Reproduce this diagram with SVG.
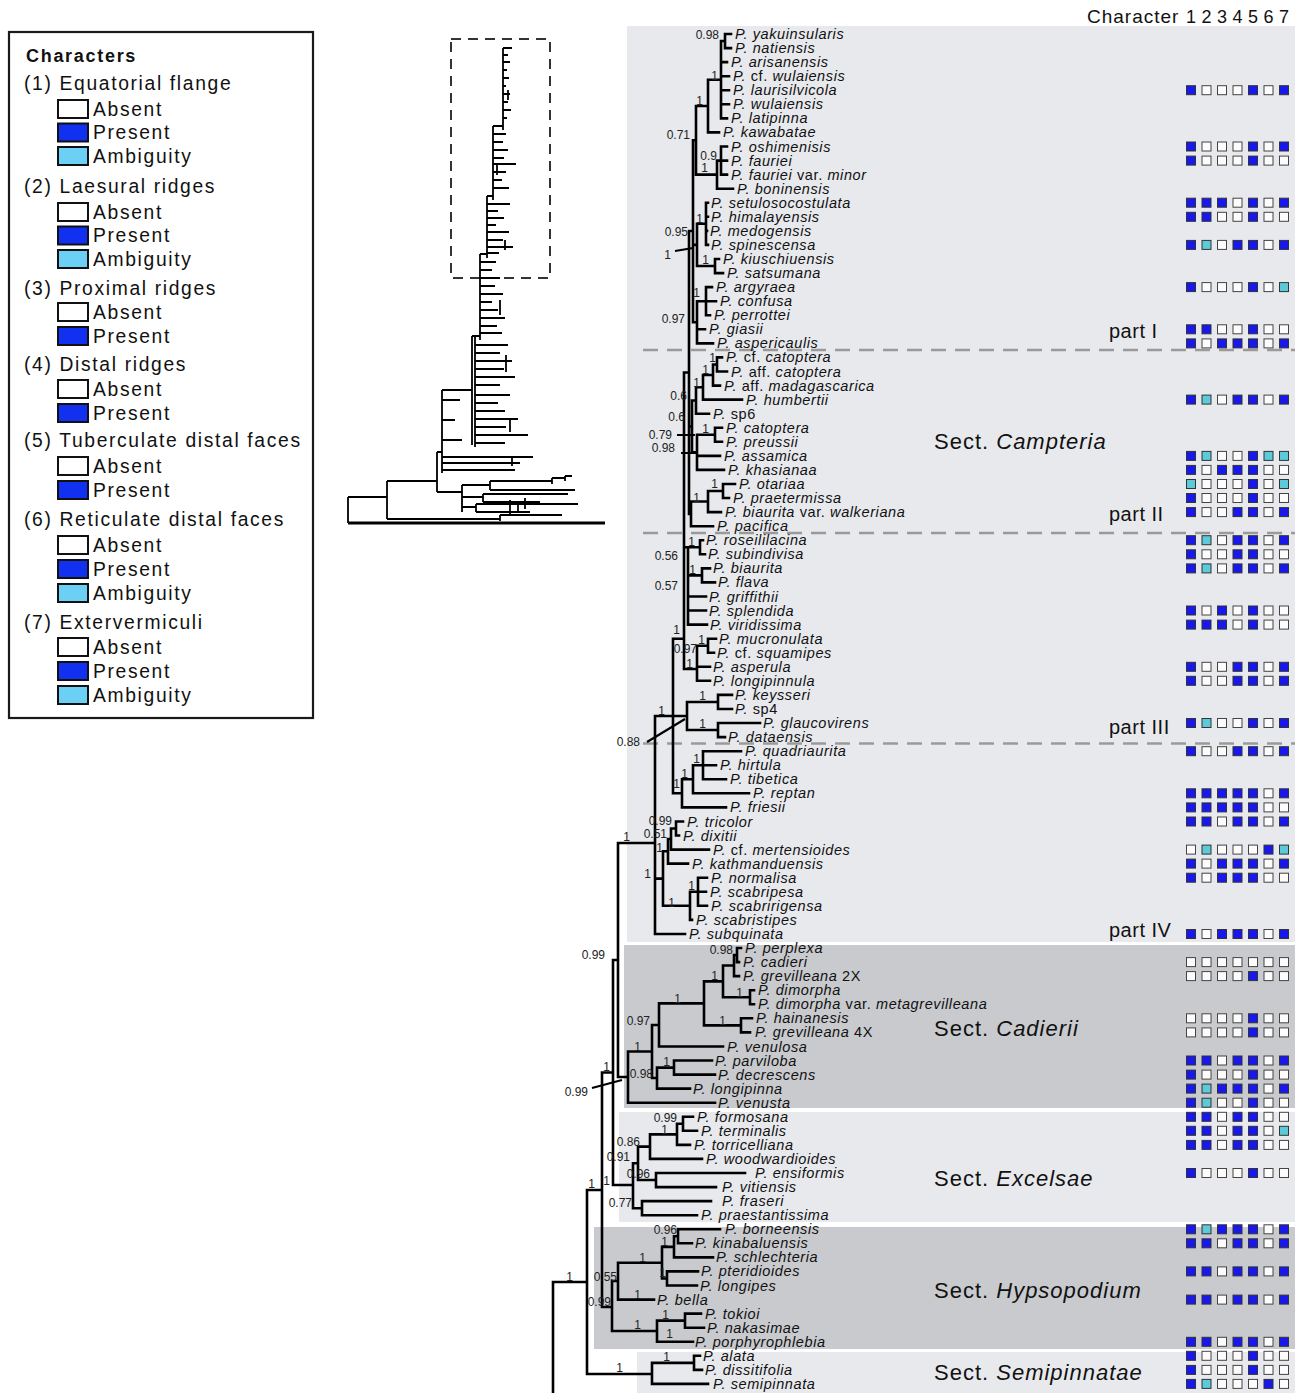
<svg xmlns="http://www.w3.org/2000/svg" xmlns:xlink="http://www.w3.org/1999/xlink" width="1304" height="1393" viewBox="0 0 1304 1393">
<style>
.t{fill:none;stroke:#000;stroke-width:2.6;stroke-linecap:square}
.pt{fill:none;stroke:#000;stroke-width:2.2}
.th{fill:none;stroke:#000;stroke-width:1.8}
.sp{font-family:"Liberation Sans",Arial,sans-serif;font-size:14.5px;font-style:italic;letter-spacing:0.6px;fill:#111}
.n{font-style:normal}
.it{font-style:italic}
.bs{font-family:"Liberation Sans",Arial,sans-serif;font-size:12px;fill:#222;text-anchor:end}
.sec{font-family:"Liberation Sans",Arial,sans-serif;font-size:22px;letter-spacing:1px;fill:#111}
.part{font-family:"Liberation Sans",Arial,sans-serif;font-size:20px;letter-spacing:0.5px;fill:#111}
.lg{font-family:"Liberation Sans",Arial,sans-serif;font-size:19.3px;letter-spacing:1.65px;fill:#111}
.lgh{font-family:"Liberation Sans",Arial,sans-serif;font-size:18px;font-weight:bold;letter-spacing:1.7px;fill:#111}
.dash{stroke:#9a9a9a;stroke-width:2.5;stroke-dasharray:15 9;fill:none}
.lb{stroke:#111;stroke-width:2}
.hd{font-family:"Liberation Sans",Arial,sans-serif;font-size:19px;letter-spacing:1px;fill:#111}
.dg{font-family:"Liberation Sans",Arial,sans-serif;font-size:18px;fill:#111;text-anchor:middle}
</style>
<defs>
<rect id="P" width="9" height="9" fill="#1818ec" stroke="#333" stroke-width="1"/>
<rect id="A" width="9" height="9" fill="#fdfbfb" stroke="#444" stroke-width="1"/>
<rect id="C" width="9" height="9" fill="#5ccad9" stroke="#333" stroke-width="1"/>
</defs>
<rect width="1304" height="1393" fill="#fff"/>
<g id="panels">
<rect x="627" y="26" width="668" height="916" fill="#e8e9ed"/>
<rect x="624" y="945" width="671" height="163" fill="#c8cace"/>
<rect x="619" y="1112" width="676" height="110" fill="#e8e9ed"/>
<rect x="594" y="1227" width="701" height="122" fill="#c8cace"/>
<rect x="637" y="1352" width="658" height="41" fill="#e8e9ed"/>
<path class="dash" d="M643 350H1295M643 533H1295M643 743.5H1295"/>
</g>
<g id="overview">
<rect x="451" y="39" width="99" height="239" fill="none" stroke="#333" stroke-width="2" stroke-dasharray="10 7"/>
<path class="th" d="M503 48V130M493 126V200M493 126H503M487 196V258M487 196H493M480 254V340M480 254H487M475 336V447M472 336V445M472 336H480M442 390V473M442 390H472M437 452V492M437 452H442M387 481V519M387 481H437M348 497V523M348 497H387
M503 48H512M503 55H508M503 62H510M503 70H507M503 78H509M503 86H506M503 94H510M503 102H508M503 110H511M503 118H507
M493 134H506M493 142H503M493 150H508M493 158H504M493 164H516M493 172H506M493 180H502M493 188H509
M487 204H510M487 211H498M487 218H504M487 225H496M487 232H509M487 240H503M487 247H513M487 253H499
M480 262H496M480 270H492M480 278H500M480 286H495M480 294H503M480 302H492M480 310H498M480 318H505M480 326H497M480 333H502
M475 345H508M475 353H500M475 361H512M475 369H504M475 377H515M475 385H500M475 395H510M475 403H498M475 411H505M475 419H518M475 427H506M475 435H528M475 443H505
M442 400H460M442 420H455M442 440H462M442 457H533M442 463H520M442 470H515
M506 355V372M510 420V432M500 300V315M497 165V175M505 240V250M508 90V100M512 457V466
M437 492H462M462 485V512M462 485H490M490 481V490M490 481H552M490 490H575M462 497H483M483 494V502M483 494H568M483 502H540M462 507H476M476 504V512M476 504H578M476 512H530M387 519H500M500 515V521M500 515H562
M510 500V516M518 503V513M525 498V509M552 478V484M552 478H565M565 476V481M565 476H572"/>
<path d="M348 523H605" fill="none" stroke="#000" stroke-width="3"/>
</g>
<g id="legend">
<rect x="9" y="32" width="304" height="686" fill="#fff" stroke="#1a1a1a" stroke-width="2.2"/>
<text class="lgh" x="26" y="62">Characters</text>
<text class="lg" x="24" y="89.5">(1) Equatorial flange</text>
<rect class="lb" x="58" y="100" width="30" height="18" fill="#fff"/><text class="lg" x="93" y="115.5">Absent</text>
<rect class="lb" x="58" y="123.5" width="30" height="18" fill="#1230f0"/><text class="lg" x="93" y="139">Present</text>
<rect class="lb" x="58" y="147" width="30" height="18" fill="#6ccff4"/><text class="lg" x="93" y="162.5">Ambiguity</text>
<text class="lg" x="24" y="192.5">(2) Laesural ridges</text>
<rect class="lb" x="58" y="203" width="30" height="18" fill="#fff"/><text class="lg" x="93" y="218.5">Absent</text>
<rect class="lb" x="58" y="226.5" width="30" height="18" fill="#1230f0"/><text class="lg" x="93" y="242">Present</text>
<rect class="lb" x="58" y="250" width="30" height="18" fill="#6ccff4"/><text class="lg" x="93" y="265.5">Ambiguity</text>
<text class="lg" x="24" y="294.5">(3) Proximal ridges</text>
<rect class="lb" x="58" y="303" width="30" height="18" fill="#fff"/><text class="lg" x="93" y="318.5">Absent</text>
<rect class="lb" x="58" y="327" width="30" height="18" fill="#1230f0"/><text class="lg" x="93" y="342.5">Present</text>
<text class="lg" x="24" y="370.5">(4) Distal ridges</text>
<rect class="lb" x="58" y="380" width="30" height="18" fill="#fff"/><text class="lg" x="93" y="395.5">Absent</text>
<rect class="lb" x="58" y="404" width="30" height="18" fill="#1230f0"/><text class="lg" x="93" y="419.5">Present</text>
<text class="lg" x="24" y="446.5">(5) Tuberculate distal faces</text>
<rect class="lb" x="58" y="457" width="30" height="18" fill="#fff"/><text class="lg" x="93" y="472.5">Absent</text>
<rect class="lb" x="58" y="481" width="30" height="18" fill="#1230f0"/><text class="lg" x="93" y="496.5">Present</text>
<text class="lg" x="24" y="525.5">(6) Reticulate distal faces</text>
<rect class="lb" x="58" y="536" width="30" height="18" fill="#fff"/><text class="lg" x="93" y="551.5">Absent</text>
<rect class="lb" x="58" y="560" width="30" height="18" fill="#1230f0"/><text class="lg" x="93" y="575.5">Present</text>
<rect class="lb" x="58" y="584" width="30" height="18" fill="#6ccff4"/><text class="lg" x="93" y="599.5">Ambiguity</text>
<text class="lg" x="24" y="628.5">(7) Extervermiculi</text>
<rect class="lb" x="58" y="638" width="30" height="18" fill="#fff"/><text class="lg" x="93" y="653.5">Absent</text>
<rect class="lb" x="58" y="662" width="30" height="18" fill="#1230f0"/><text class="lg" x="93" y="677.5">Present</text>
<rect class="lb" x="58" y="686" width="30" height="18" fill="#6ccff4"/><text class="lg" x="93" y="701.5">Ambiguity</text>
</g>
<g id="connectors">
<path class="t" d="M725 34V48.1M725 34H731M725 48.1H731
M721 41V118.4M721 41H725M721 62.1H727M721 76.2H729M721 90.2H729M721 104.3H729M721 118.4H727
M708 79.7V132.4M708 79.7H721M708 132.4H719
M721 146.5V174.6M721 146.5H727M721 160.6H727M721 174.6H727
M717 160.6V188.7M717 160.6H721M717 188.7H733
M696 106V174.6M696 106H708M696 174.6H717
M706 202.7V244.9M706 202.7H708M706 216.8H708M706 230.9H707M706 244.9H708
M715 259V273.1M715 259H719M715 273.1H723
M697 223.8V266M697 223.8H706M697 266H715
M706 287.1V315.2M706 287.1H712M706 301.2H716M706 315.2H710
M697 301.2V343.4M697 301.2H706M697 329.3H705M697 343.4H713
M693 140.3V322.3M693 140.3H696M693 244.9H697M693 322.3H697
M689 231V514M689 231H693M689 426.4H692M689 514H691
M717 357.4V371.5M717 357.4H722M717 371.5H727
M713 364.5V385.6M713 364.5H717M713 385.6H720
M703 375V399.6M703 375H713M703 399.6H742
M696 387.3V413.7M696 387.3H703M696 413.7H709
M715 427.7V441.8M715 427.7H722M715 441.8H722
M697 434.8V469.9M697 434.8H715M697 455.9H720M697 469.9H724
M692 400.5V452.4M692 400.5H696M692 452.4H697
M723 484V498M723 484H735M723 498H729
M708 491V512.1M708 491H723M708 512.1H721
M691 501.5V526.2M691 501.5H708M691 526.2H713
M684 372.5V669M684 372.5H689M684 547.3H688M684 669H697
M700 540.2V554.3M700 540.2H703M700 554.3H705
M702 568.4V582.4M702 568.4H710M702 582.4H715
M688 547.3V624.6M688 547.3H700M688 575.4H702M688 596.5H706M688 610.5H706M688 624.6H707
M708 638.7V652.7M708 638.7H716M708 652.7H714
M697 645.7V680.8M697 645.7H708M697 666.8H710M697 680.8H710
M718 694.9V709M718 694.9H732M718 709H732
M718 723V737.1M718 723H760M718 737.1H725
M687 702V730M687 702H718M687 730H718
M673 638.7V793.3M673 638.7H684M673 716H687M673 793.3H682
M655 716V934M655 716H673M655 878.6H663M655 934H685
M703 751.2V779.3M703 751.2H741M703 765.2H716M703 779.3H726
M693 765.2V793.3M693 765.2H703M693 793.3H749
M682 779.3V807.4M682 779.3H693M682 807.4H726
M676 821.5V835.5M676 821.5H683M676 835.5H679
M671 828.5V849.6M671 828.5H676M671 849.6H709
M668 839V863.6M668 839H671M668 863.6H688
M698 877.7V905.8M698 877.7H707M698 891.8H706M698 905.8H707
M690 891.8V919.9M690 891.8H698M690 919.9H692
M663 851.3V905.8M663 851.3H668M663 905.8H690
M618 843V1077M618 843H655M618 1077H628
M613 960V1185M613 960H618M613 1185H633
M602 1072.5V1307M602 1072.5H613M602 1307H612
M587 1190V1374M587 1190H602M587 1374H652
M553 1282V1396M553 1282H587
M737 948V962.1M737 948H741M737 962.1H739
M734 955V976.1M734 955H737M734 976.1H739
M750 990.2V1004.3M750 990.2H754M750 1004.3H754
M723 965.5V997.3M723 965.5H734M723 997.3H750
M741 1018.3V1032.4M741 1018.3H752M741 1032.4H750
M704 981.4V1025.4M704 981.4H723M704 1025.4H741
M659 1003.4V1046.5M659 1003.4H704M659 1046.5H723
M674 1060.5V1074.6M674 1060.5H712M674 1074.6H715
M657 1067.6V1088.6M657 1067.6H674M657 1088.6H690
M652 1025V1078M652 1025H659M652 1078H657
M628 1051.5V1102.7M628 1051.5H652M628 1102.7H715
M683 1116.8V1130.8M683 1116.8H693M683 1130.8H697
M677 1123.8V1144.9M677 1123.8H683M677 1144.9H690
M650 1134.4V1158.9M650 1134.4H677M650 1158.9H702
M656 1173V1187.1M656 1173H745M656 1187.1H716
M638 1146.6V1180M638 1146.6H650M638 1180H656
M642 1201.1V1215.2M642 1201.1H711M642 1215.2H697
M633 1163.3V1208.2M633 1163.3H638M633 1208.2H642
M678 1229.3V1243.3M678 1229.3H720M678 1243.3H692
M674 1236.3V1257.4M674 1236.3H678M674 1257.4H713
M667 1271.4V1285.5M667 1271.4H698M667 1285.5H697
M662 1246.9V1278.5M662 1246.9H674M662 1278.5H667
M618 1262.7V1299.6M618 1262.7H662M618 1299.6H654
M685 1313.6V1327.7M685 1313.6H701M685 1327.7H704
M657 1320.6V1341.8M657 1320.6H685M657 1341.8H693
M612 1281V1331M612 1281H618M612 1331H657
M694 1355.8V1369.9M694 1355.8H700M694 1369.9H702
M652 1362.9V1383.9M652 1362.9H694M652 1383.9H708"/>
<path class="pt" d="M675 251L693 248M677 435H695M681 453H697M647 742L685 719M592 1088L622 1080"/>
</g>
<g id="support" class="bs">
<text x="719" y="39">0.98</text><text x="718" y="80">1</text><text x="703" y="105">1</text><text x="690" y="139">0.71</text><text x="717" y="160">0.9</text><text x="708" y="172">1</text><text x="703" y="223">1</text><text x="688" y="236">0.95</text><text x="671" y="259">1</text><text x="709" y="264">1</text><text x="700" y="297">1</text><text x="685" y="323">0.97</text>
<text x="716" y="362">1</text><text x="709" y="374">1</text><text x="700" y="387">1</text><text x="687" y="400">0.6</text><text x="685" y="421">0.6</text><text x="709" y="433">1</text><text x="672" y="439">0.79</text><text x="675" y="452">0.98</text><text x="718" y="488">1</text><text x="700" y="502">1</text>
<text x="695" y="546">1</text><text x="678" y="560">0.56</text><text x="696" y="574">1</text><text x="678" y="590">0.57</text><text x="680" y="634">1</text><text x="705" y="644">1</text><text x="697" y="653">0.97</text><text x="693" y="668">1</text><text x="706" y="700">1</text><text x="665" y="715">1</text><text x="706" y="728">1</text><text x="640" y="746">0.88</text>
<text x="700" y="763">1</text><text x="688" y="778">1</text><text x="680" y="788">1</text><text x="672" y="825">0.99</text><text x="667" y="838">0.51</text><text x="663" y="852">1</text><text x="651" y="878">1</text><text x="695" y="890">1</text><text x="675" y="907">1</text><text x="630" y="841">1</text>
<text x="605" y="959">0.99</text><text x="733" y="954">0.98</text><text x="718" y="980">1</text><text x="743" y="997">1</text><text x="681" y="1003">1</text><text x="650" y="1025">0.97</text><text x="726" y="1025">1</text><text x="641" y="1051">1</text><text x="670" y="1066">1</text><text x="610" y="1071">1</text><text x="653" y="1078">0.98</text><text x="588" y="1096">0.99</text>
<text x="677" y="1122">0.99</text><text x="668" y="1134">1</text><text x="640" y="1146">0.86</text><text x="630" y="1161">0.91</text><text x="650" y="1178">0.96</text><text x="595" y="1188">1</text><text x="610" y="1185">1</text><text x="632" y="1207">0.77</text>
<text x="677" y="1234">0.96</text><text x="668" y="1246">1</text><text x="646" y="1262">1</text><text x="666" y="1277">1</text><text x="573" y="1281">1</text><text x="617" y="1281">0.55</text><text x="641" y="1299">1</text><text x="611" y="1306">0.99</text><text x="669" y="1319">1</text><text x="641" y="1329">1</text><text x="673" y="1338">1</text>
<text x="670" y="1361">1</text><text x="623" y="1372">1</text>
</g>
<g id="taxa" class="sp">
<g id="t01"><text x="735" y="39">P. yakuinsularis</text></g>
<g id="t02"><text x="735" y="53.1">P. natiensis</text></g>
<g id="t03"><text x="731" y="67.1">P. arisanensis</text></g>
<g id="t04"><text x="733" y="81.2">P. <tspan class="n">cf.</tspan> wulaiensis</text></g>
<g id="t05"><text x="733" y="95.2">P. laurisilvicola</text></g>
<g id="t06"><text x="733" y="109.3">P. wulaiensis</text></g>
<g id="t07"><text x="731" y="123.4">P. latipinna</text></g>
<g id="t08"><text x="723" y="137.4">P. kawabatae</text></g>
<g id="t09"><text x="731" y="151.5">P. oshimenisis</text></g>
<g id="t10"><text x="731" y="165.6">P. fauriei</text></g>
<g id="t11"><text x="731" y="179.6">P. fauriei <tspan class="n">var.</tspan> minor</text></g>
<g id="t12"><text x="737" y="193.7">P. boninensis</text></g>
<g id="t13"><text x="711" y="207.7">P. setulosocostulata</text></g>
<g id="t14"><text x="711" y="221.8">P. himalayensis</text></g>
<g id="t15"><text x="710" y="235.9">P. medogensis</text></g>
<g id="t16"><text x="711" y="249.9">P. spinescensa</text></g>
<g id="t17"><text x="723" y="264">P. kiuschiuensis</text></g>
<g id="t18"><text x="727" y="278.1">P. satsumana</text></g>
<g id="t19"><text x="716" y="292.1">P. argyraea</text></g>
<g id="t20"><text x="720" y="306.2">P. confusa</text></g>
<g id="t21"><text x="714" y="320.2">P. perrottei</text></g>
<g id="t22"><text x="709" y="334.3">P. giasii</text></g>
<g id="t23"><text x="717" y="348.4">P. aspericaulis</text></g>
<g id="t24"><text x="726" y="362.4">P. <tspan class="n">cf.</tspan> catoptera</text></g>
<g id="t25"><text x="731" y="376.5">P. <tspan class="n">aff.</tspan> catoptera</text></g>
<g id="t26"><text x="724" y="390.6">P. <tspan class="n">aff.</tspan> madagascarica</text></g>
<g id="t27"><text x="746" y="404.6">P. humbertii</text></g>
<g id="t28"><text x="713" y="418.7">P. <tspan class="n">sp6</tspan></text></g>
<g id="t29"><text x="726" y="432.7">P. catoptera</text></g>
<g id="t30"><text x="726" y="446.8">P. preussii</text></g>
<g id="t31"><text x="724" y="460.9">P. assamica</text></g>
<g id="t32"><text x="728" y="474.9">P. khasianaa</text></g>
<g id="t33"><text x="739" y="489">P. otariaa</text></g>
<g id="t34"><text x="733" y="503">P. praetermissa</text></g>
<g id="t35"><text x="725" y="517.1">P. biaurita <tspan class="n">var.</tspan> walkeriana</text></g>
<g id="t36"><text x="717" y="531.2">P. pacifica</text></g>
<g id="t37"><text x="706" y="545.2">P. roseililacina</text></g>
<g id="t38"><text x="708" y="559.3">P. subindivisa</text></g>
<g id="t39"><text x="713" y="573.4">P. biaurita</text></g>
<g id="t40"><text x="718" y="587.4">P. flava</text></g>
<g id="t41"><text x="709" y="601.5">P. griffithii</text></g>
<g id="t42"><text x="709" y="615.5">P. splendida</text></g>
<g id="t43"><text x="710" y="629.6">P. viridissima</text></g>
<g id="t44"><text x="719" y="643.7">P. mucronulata</text></g>
<g id="t45"><text x="717" y="657.7">P. <tspan class="n">cf.</tspan> squamipes</text></g>
<g id="t46"><text x="713" y="671.8">P. asperula</text></g>
<g id="t47"><text x="713" y="685.8">P. longipinnula</text></g>
<g id="t48"><text x="735" y="699.9">P. keysseri</text></g>
<g id="t49"><text x="735" y="714">P. <tspan class="n">sp4</tspan></text></g>
<g id="t50"><text x="763" y="728">P. glaucovirens</text></g>
<g id="t51"><text x="728" y="742.1">P. dataensis</text></g>
<g id="t52"><text x="745" y="756.2">P. quadriaurita</text></g>
<g id="t53"><text x="720" y="770.2">P. hirtula</text></g>
<g id="t54"><text x="730" y="784.3">P. tibetica</text></g>
<g id="t55"><text x="753" y="798.3">P. reptan</text></g>
<g id="t56"><text x="730" y="812.4">P. friesii</text></g>
<g id="t57"><text x="687" y="826.5">P. tricolor</text></g>
<g id="t58"><text x="683" y="840.5">P. dixitii</text></g>
<g id="t59"><text x="713" y="854.6">P. <tspan class="n">cf.</tspan> mertensioides</text></g>
<g id="t60"><text x="692" y="868.6">P. kathmanduensis</text></g>
<g id="t61"><text x="711" y="882.7">P. normalisa</text></g>
<g id="t62"><text x="710" y="896.8">P. scabripesa</text></g>
<g id="t63"><text x="711" y="910.8">P. scabririgensa</text></g>
<g id="t64"><text x="696" y="924.9">P. scabristipes</text></g>
<g id="t65"><text x="689" y="939">P. subquinata</text></g>
<g id="t66"><text x="745" y="953">P. perplexa</text></g>
<g id="t67"><text x="743" y="967.1">P. cadieri</text></g>
<g id="t68"><text x="743" y="981.1">P. grevilleana <tspan class="n">2X</tspan></text></g>
<g id="t69"><text x="758" y="995.2">P. dimorpha</text></g>
<g id="t70"><text x="758" y="1009.3">P. dimorpha <tspan class="n">var.</tspan> metagrevilleana</text></g>
<g id="t71"><text x="756" y="1023.3">P. hainanesis</text></g>
<g id="t72"><text x="755" y="1037.4">P. grevilleana <tspan class="n">4X</tspan></text></g>
<g id="t73"><text x="727" y="1051.5">P. venulosa</text></g>
<g id="t74"><text x="715" y="1065.5">P. parviloba</text></g>
<g id="t75"><text x="718" y="1079.6">P. decrescens</text></g>
<g id="t76"><text x="693" y="1093.6">P. longipinna</text></g>
<g id="t77"><text x="718" y="1107.7">P. venusta</text></g>
<g id="t78"><text x="697" y="1121.8">P. formosana</text></g>
<g id="t79"><text x="701" y="1135.8">P. terminalis</text></g>
<g id="t80"><text x="694" y="1149.9">P. torricelliana</text></g>
<g id="t81"><text x="706" y="1163.9">P. woodwardioides</text></g>
<g id="t82"><text x="755" y="1178">P. ensiformis</text></g>
<g id="t83"><text x="722" y="1192.1">P. vitiensis</text></g>
<g id="t84"><text x="722" y="1206.1">P. fraseri</text></g>
<g id="t85"><text x="701" y="1220.2">P. praestantissima</text></g>
<g id="t86"><text x="725" y="1234.3">P. borneensis</text></g>
<g id="t87"><text x="695" y="1248.3">P. kinabaluensis</text></g>
<g id="t88"><text x="716" y="1262.4">P. schlechteria</text></g>
<g id="t89"><text x="701" y="1276.4">P. pteridioides</text></g>
<g id="t90"><text x="700" y="1290.5">P. longipes</text></g>
<g id="t91"><text x="657" y="1304.6">P. bella</text></g>
<g id="t92"><text x="705" y="1318.6">P. tokioi</text></g>
<g id="t93"><text x="707" y="1332.7">P. nakasimae</text></g>
<g id="t94"><text x="695" y="1346.8">P. porphyrophlebia</text></g>
<g id="t95"><text x="703" y="1360.8">P. alata</text></g>
<g id="t96"><text x="705" y="1374.9">P. dissitifolia</text></g>
<g id="t97"><text x="713" y="1388.9">P. semipinnata</text></g>
</g>
<g id="sections">
<text class="sec" x="934" y="449">Sect. <tspan class="it">Campteria</tspan></text>
<text class="sec" x="934" y="1036">Sect. <tspan class="it">Cadierii</tspan></text>
<text class="sec" x="934" y="1186">Sect. <tspan class="it">Excelsae</tspan></text>
<text class="sec" x="934" y="1298">Sect. <tspan class="it">Hypsopodium</tspan></text>
<text class="sec" x="934" y="1380">Sect. <tspan class="it">Semipinnatae</tspan></text>
<text class="part" x="1109" y="338">part I</text>
<text class="part" x="1109" y="521">part II</text>
<text class="part" x="1109" y="734">part III</text>
<text class="part" x="1109" y="937">part IV</text>
</g>
<g id="header">
<text class="hd" x="1087" y="23">Character</text>
<text class="dg" x="1191" y="23">1</text><text class="dg" x="1206.5" y="23">2</text><text class="dg" x="1222" y="23">3</text><text class="dg" x="1237.5" y="23">4</text><text class="dg" x="1253" y="23">5</text><text class="dg" x="1268.5" y="23">6</text><text class="dg" x="1284" y="23">7</text>
</g>
<g id="matrix">
<g transform="translate(0,85.7)"><use href="#P" x="1186.5"/><use href="#A" x="1202"/><use href="#A" x="1217.5"/><use href="#A" x="1233"/><use href="#P" x="1248.5"/><use href="#A" x="1264"/><use href="#P" x="1279.5"/></g>
<g transform="translate(0,142)"><use href="#P" x="1186.5"/><use href="#A" x="1202"/><use href="#A" x="1217.5"/><use href="#A" x="1233"/><use href="#P" x="1248.5"/><use href="#A" x="1264"/><use href="#P" x="1279.5"/></g>
<g transform="translate(0,156.1)"><use href="#P" x="1186.5"/><use href="#A" x="1202"/><use href="#A" x="1217.5"/><use href="#A" x="1233"/><use href="#P" x="1248.5"/><use href="#A" x="1264"/><use href="#A" x="1279.5"/></g>
<g transform="translate(0,198.2)"><use href="#P" x="1186.5"/><use href="#P" x="1202"/><use href="#P" x="1217.5"/><use href="#A" x="1233"/><use href="#P" x="1248.5"/><use href="#A" x="1264"/><use href="#P" x="1279.5"/></g>
<g transform="translate(0,212.3)"><use href="#P" x="1186.5"/><use href="#P" x="1202"/><use href="#A" x="1217.5"/><use href="#A" x="1233"/><use href="#P" x="1248.5"/><use href="#A" x="1264"/><use href="#A" x="1279.5"/></g>
<g transform="translate(0,240.4)"><use href="#P" x="1186.5"/><use href="#C" x="1202"/><use href="#A" x="1217.5"/><use href="#P" x="1233"/><use href="#P" x="1248.5"/><use href="#A" x="1264"/><use href="#P" x="1279.5"/></g>
<g transform="translate(0,282.6)"><use href="#P" x="1186.5"/><use href="#A" x="1202"/><use href="#A" x="1217.5"/><use href="#A" x="1233"/><use href="#P" x="1248.5"/><use href="#A" x="1264"/><use href="#C" x="1279.5"/></g>
<g transform="translate(0,324.8)"><use href="#P" x="1186.5"/><use href="#P" x="1202"/><use href="#A" x="1217.5"/><use href="#A" x="1233"/><use href="#P" x="1248.5"/><use href="#A" x="1264"/><use href="#A" x="1279.5"/></g>
<g transform="translate(0,338.9)"><use href="#P" x="1186.5"/><use href="#A" x="1202"/><use href="#P" x="1217.5"/><use href="#P" x="1233"/><use href="#P" x="1248.5"/><use href="#A" x="1264"/><use href="#P" x="1279.5"/></g>
<g transform="translate(0,395.1)"><use href="#P" x="1186.5"/><use href="#C" x="1202"/><use href="#A" x="1217.5"/><use href="#P" x="1233"/><use href="#P" x="1248.5"/><use href="#A" x="1264"/><use href="#P" x="1279.5"/></g>
<g transform="translate(0,451.4)"><use href="#P" x="1186.5"/><use href="#C" x="1202"/><use href="#A" x="1217.5"/><use href="#A" x="1233"/><use href="#P" x="1248.5"/><use href="#C" x="1264"/><use href="#C" x="1279.5"/></g>
<g transform="translate(0,465.4)"><use href="#P" x="1186.5"/><use href="#A" x="1202"/><use href="#P" x="1217.5"/><use href="#P" x="1233"/><use href="#P" x="1248.5"/><use href="#A" x="1264"/><use href="#A" x="1279.5"/></g>
<g transform="translate(0,479.5)"><use href="#C" x="1186.5"/><use href="#A" x="1202"/><use href="#A" x="1217.5"/><use href="#A" x="1233"/><use href="#P" x="1248.5"/><use href="#A" x="1264"/><use href="#C" x="1279.5"/></g>
<g transform="translate(0,493.5)"><use href="#P" x="1186.5"/><use href="#A" x="1202"/><use href="#A" x="1217.5"/><use href="#A" x="1233"/><use href="#P" x="1248.5"/><use href="#A" x="1264"/><use href="#A" x="1279.5"/></g>
<g transform="translate(0,507.6)"><use href="#P" x="1186.5"/><use href="#A" x="1202"/><use href="#A" x="1217.5"/><use href="#P" x="1233"/><use href="#P" x="1248.5"/><use href="#A" x="1264"/><use href="#P" x="1279.5"/></g>
<g transform="translate(0,535.7)"><use href="#P" x="1186.5"/><use href="#C" x="1202"/><use href="#A" x="1217.5"/><use href="#P" x="1233"/><use href="#P" x="1248.5"/><use href="#A" x="1264"/><use href="#P" x="1279.5"/></g>
<g transform="translate(0,549.8)"><use href="#P" x="1186.5"/><use href="#A" x="1202"/><use href="#A" x="1217.5"/><use href="#P" x="1233"/><use href="#P" x="1248.5"/><use href="#A" x="1264"/><use href="#A" x="1279.5"/></g>
<g transform="translate(0,563.9)"><use href="#P" x="1186.5"/><use href="#C" x="1202"/><use href="#A" x="1217.5"/><use href="#P" x="1233"/><use href="#P" x="1248.5"/><use href="#A" x="1264"/><use href="#P" x="1279.5"/></g>
<g transform="translate(0,606)"><use href="#P" x="1186.5"/><use href="#A" x="1202"/><use href="#P" x="1217.5"/><use href="#A" x="1233"/><use href="#P" x="1248.5"/><use href="#A" x="1264"/><use href="#A" x="1279.5"/></g>
<g transform="translate(0,620.1)"><use href="#P" x="1186.5"/><use href="#P" x="1202"/><use href="#P" x="1217.5"/><use href="#A" x="1233"/><use href="#P" x="1248.5"/><use href="#A" x="1264"/><use href="#A" x="1279.5"/></g>
<g transform="translate(0,662.3)"><use href="#P" x="1186.5"/><use href="#A" x="1202"/><use href="#A" x="1217.5"/><use href="#P" x="1233"/><use href="#P" x="1248.5"/><use href="#A" x="1264"/><use href="#P" x="1279.5"/></g>
<g transform="translate(0,676.3)"><use href="#P" x="1186.5"/><use href="#A" x="1202"/><use href="#A" x="1217.5"/><use href="#P" x="1233"/><use href="#P" x="1248.5"/><use href="#A" x="1264"/><use href="#P" x="1279.5"/></g>
<g transform="translate(0,718.5)"><use href="#P" x="1186.5"/><use href="#C" x="1202"/><use href="#A" x="1217.5"/><use href="#A" x="1233"/><use href="#P" x="1248.5"/><use href="#A" x="1264"/><use href="#P" x="1279.5"/></g>
<g transform="translate(0,746.7)"><use href="#P" x="1186.5"/><use href="#A" x="1202"/><use href="#A" x="1217.5"/><use href="#P" x="1233"/><use href="#P" x="1248.5"/><use href="#A" x="1264"/><use href="#P" x="1279.5"/></g>
<g transform="translate(0,788.8)"><use href="#P" x="1186.5"/><use href="#P" x="1202"/><use href="#P" x="1217.5"/><use href="#P" x="1233"/><use href="#P" x="1248.5"/><use href="#A" x="1264"/><use href="#P" x="1279.5"/></g>
<g transform="translate(0,802.9)"><use href="#P" x="1186.5"/><use href="#P" x="1202"/><use href="#P" x="1217.5"/><use href="#P" x="1233"/><use href="#P" x="1248.5"/><use href="#A" x="1264"/><use href="#A" x="1279.5"/></g>
<g transform="translate(0,817)"><use href="#P" x="1186.5"/><use href="#P" x="1202"/><use href="#A" x="1217.5"/><use href="#P" x="1233"/><use href="#P" x="1248.5"/><use href="#A" x="1264"/><use href="#P" x="1279.5"/></g>
<g transform="translate(0,845.1)"><use href="#A" x="1186.5"/><use href="#C" x="1202"/><use href="#A" x="1217.5"/><use href="#A" x="1233"/><use href="#A" x="1248.5"/><use href="#P" x="1264"/><use href="#C" x="1279.5"/></g>
<g transform="translate(0,859.1)"><use href="#P" x="1186.5"/><use href="#A" x="1202"/><use href="#P" x="1217.5"/><use href="#P" x="1233"/><use href="#P" x="1248.5"/><use href="#A" x="1264"/><use href="#P" x="1279.5"/></g>
<g transform="translate(0,873.2)"><use href="#P" x="1186.5"/><use href="#A" x="1202"/><use href="#P" x="1217.5"/><use href="#P" x="1233"/><use href="#P" x="1248.5"/><use href="#A" x="1264"/><use href="#A" x="1279.5"/></g>
<g transform="translate(0,929.5)"><use href="#P" x="1186.5"/><use href="#A" x="1202"/><use href="#P" x="1217.5"/><use href="#P" x="1233"/><use href="#P" x="1248.5"/><use href="#A" x="1264"/><use href="#P" x="1279.5"/></g>
<g transform="translate(0,957.6)"><use href="#A" x="1186.5"/><use href="#A" x="1202"/><use href="#A" x="1217.5"/><use href="#A" x="1233"/><use href="#A" x="1248.5"/><use href="#A" x="1264"/><use href="#A" x="1279.5"/></g>
<g transform="translate(0,971.6)"><use href="#A" x="1186.5"/><use href="#A" x="1202"/><use href="#A" x="1217.5"/><use href="#A" x="1233"/><use href="#P" x="1248.5"/><use href="#A" x="1264"/><use href="#A" x="1279.5"/></g>
<g transform="translate(0,1013.8)"><use href="#A" x="1186.5"/><use href="#A" x="1202"/><use href="#A" x="1217.5"/><use href="#A" x="1233"/><use href="#P" x="1248.5"/><use href="#A" x="1264"/><use href="#A" x="1279.5"/></g>
<g transform="translate(0,1027.9)"><use href="#A" x="1186.5"/><use href="#A" x="1202"/><use href="#A" x="1217.5"/><use href="#A" x="1233"/><use href="#P" x="1248.5"/><use href="#A" x="1264"/><use href="#A" x="1279.5"/></g>
<g transform="translate(0,1056)"><use href="#P" x="1186.5"/><use href="#P" x="1202"/><use href="#A" x="1217.5"/><use href="#P" x="1233"/><use href="#P" x="1248.5"/><use href="#A" x="1264"/><use href="#P" x="1279.5"/></g>
<g transform="translate(0,1070.1)"><use href="#P" x="1186.5"/><use href="#A" x="1202"/><use href="#A" x="1217.5"/><use href="#A" x="1233"/><use href="#P" x="1248.5"/><use href="#A" x="1264"/><use href="#A" x="1279.5"/></g>
<g transform="translate(0,1084.1)"><use href="#P" x="1186.5"/><use href="#C" x="1202"/><use href="#P" x="1217.5"/><use href="#P" x="1233"/><use href="#P" x="1248.5"/><use href="#A" x="1264"/><use href="#P" x="1279.5"/></g>
<g transform="translate(0,1098.2)"><use href="#P" x="1186.5"/><use href="#C" x="1202"/><use href="#A" x="1217.5"/><use href="#A" x="1233"/><use href="#P" x="1248.5"/><use href="#A" x="1264"/><use href="#A" x="1279.5"/></g>
<g transform="translate(0,1112.3)"><use href="#P" x="1186.5"/><use href="#P" x="1202"/><use href="#A" x="1217.5"/><use href="#P" x="1233"/><use href="#P" x="1248.5"/><use href="#A" x="1264"/><use href="#A" x="1279.5"/></g>
<g transform="translate(0,1126.3)"><use href="#P" x="1186.5"/><use href="#P" x="1202"/><use href="#A" x="1217.5"/><use href="#P" x="1233"/><use href="#P" x="1248.5"/><use href="#A" x="1264"/><use href="#C" x="1279.5"/></g>
<g transform="translate(0,1140.4)"><use href="#P" x="1186.5"/><use href="#P" x="1202"/><use href="#A" x="1217.5"/><use href="#P" x="1233"/><use href="#P" x="1248.5"/><use href="#A" x="1264"/><use href="#A" x="1279.5"/></g>
<g transform="translate(0,1168.5)"><use href="#P" x="1186.5"/><use href="#A" x="1202"/><use href="#A" x="1217.5"/><use href="#A" x="1233"/><use href="#P" x="1248.5"/><use href="#A" x="1264"/><use href="#A" x="1279.5"/></g>
<g transform="translate(0,1224.8)"><use href="#P" x="1186.5"/><use href="#C" x="1202"/><use href="#P" x="1217.5"/><use href="#P" x="1233"/><use href="#P" x="1248.5"/><use href="#A" x="1264"/><use href="#P" x="1279.5"/></g>
<g transform="translate(0,1238.8)"><use href="#P" x="1186.5"/><use href="#P" x="1202"/><use href="#A" x="1217.5"/><use href="#P" x="1233"/><use href="#P" x="1248.5"/><use href="#A" x="1264"/><use href="#P" x="1279.5"/></g>
<g transform="translate(0,1266.9)"><use href="#P" x="1186.5"/><use href="#P" x="1202"/><use href="#A" x="1217.5"/><use href="#P" x="1233"/><use href="#P" x="1248.5"/><use href="#A" x="1264"/><use href="#P" x="1279.5"/></g>
<g transform="translate(0,1295.1)"><use href="#P" x="1186.5"/><use href="#P" x="1202"/><use href="#A" x="1217.5"/><use href="#P" x="1233"/><use href="#P" x="1248.5"/><use href="#A" x="1264"/><use href="#P" x="1279.5"/></g>
<g transform="translate(0,1337.3)"><use href="#P" x="1186.5"/><use href="#P" x="1202"/><use href="#A" x="1217.5"/><use href="#P" x="1233"/><use href="#P" x="1248.5"/><use href="#A" x="1264"/><use href="#P" x="1279.5"/></g>
<g transform="translate(0,1351.3)"><use href="#P" x="1186.5"/><use href="#A" x="1202"/><use href="#A" x="1217.5"/><use href="#A" x="1233"/><use href="#P" x="1248.5"/><use href="#A" x="1264"/><use href="#A" x="1279.5"/></g>
<g transform="translate(0,1365.4)"><use href="#P" x="1186.5"/><use href="#A" x="1202"/><use href="#A" x="1217.5"/><use href="#A" x="1233"/><use href="#P" x="1248.5"/><use href="#A" x="1264"/><use href="#A" x="1279.5"/></g>
<g transform="translate(0,1379.4)"><use href="#P" x="1186.5"/><use href="#C" x="1202"/><use href="#A" x="1217.5"/><use href="#A" x="1233"/><use href="#A" x="1248.5"/><use href="#P" x="1264"/><use href="#A" x="1279.5"/></g>
</g>
</svg>
